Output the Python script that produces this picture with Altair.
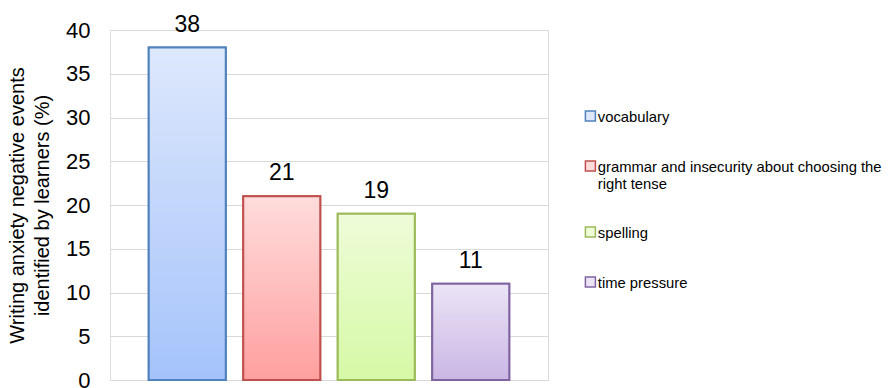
import altair as alt
import pandas as pd

categories = ["vocabulary", "grammar and insecurity about choosing the right tense", "spelling", "time pressure"]
values = [38, 21, 19, 11]
top_colors = ["#dde8fc", "#ffdcdc", "#eefcd8", "#ebe4f6"]
bottom_colors = ["#a5c3fb", "#ff9f9f", "#d6f9a6", "#cab7e4"]
border_colors = ["#4f81bd", "#c0504d", "#9bbb59", "#8064a2"]

df = pd.DataFrame({"cat": categories, "value": values})

FONT = "Liberation Sans"

x_enc = alt.X("cat:N", sort=categories, axis=None,
              scale=alt.Scale(paddingInner=0.185, paddingOuter=0.41))
y_enc = alt.Y("value:Q",
              scale=alt.Scale(domain=[0, 40]),
              axis=alt.Axis(values=[0, 5, 10, 15, 20, 25, 30, 35, 40],
                            title=["Writing anxiety negative events", "identified by learners (%)"],
                            titleFontSize=20, titleFontWeight="normal", titleFont=FONT,
                            titleColor="#000000", titlePadding=13, titleLineHeight=25,
                            labelFontSize=22, labelFont=FONT, labelColor="#000000",
                            labelPadding=20, ticks=False, domain=False,
                            grid=True, gridColor="#d9d9d9", gridWidth=1))

legend_expr = ("datum.label == 'grammar and insecurity about choosing the right tense' ? "
               "['grammar and insecurity about choosing the', 'right tense'] : datum.label")

# square symbol shifted down so that it sits beside the first label line
SQUARE_LOW = "M-1,0.1H1V2.1H-1Z"

leg = alt.Legend(title=None, orient="none", legendX=473, legendY=73,
                 symbolType=SQUARE_LOW, symbolSize=100,
                 symbolStrokeWidth=1.5, labelFontSize=14.8, labelFont=FONT,
                 labelColor="#000000", labelExpr=legend_expr, labelBaseline="top",
                 labelLimit=400, rowPadding=27, labelOffset=0)

base = alt.Chart(df).mark_bar(strokeWidth=2).encode(
    x=x_enc,
    y=y_enc,
    fill=alt.Fill("cat:N", sort=categories,
                  scale=alt.Scale(domain=categories, range=top_colors), legend=leg),
    stroke=alt.Stroke("cat:N", sort=categories,
                      scale=alt.Scale(domain=categories, range=border_colors), legend=leg),
)

layers = [base]
for c, t, b, s in zip(categories, top_colors, bottom_colors, border_colors):
    grad = alt.Gradient(gradient="linear", x1=0, x2=0, y1=0, y2=1,
                        stops=[alt.GradientStop(color=t, offset=0),
                               alt.GradientStop(color=b, offset=1)])
    layers.append(
        alt.Chart(df).transform_filter(alt.datum.cat == c)
        .mark_bar(fill=grad, stroke=s, strokeWidth=2)
        .encode(x=x_enc, y=y_enc)
    )

text = alt.Chart(df).mark_text(baseline="alphabetic", dy=-16, fontSize=23, font=FONT, color="#000000").encode(
    x=x_enc, y=y_enc, text="value:Q"
)
layers.append(text)

chart = alt.layer(*layers).properties(
    width=438, height=350,
    autosize=alt.AutoSizeParams(type="none"),
    padding={"left": 110, "top": 30, "right": 340, "bottom": 8},
).configure_view(stroke=None).configure(background="white")

chart.save("out.html", embed_options={"renderer": "svg", "actions": False})
